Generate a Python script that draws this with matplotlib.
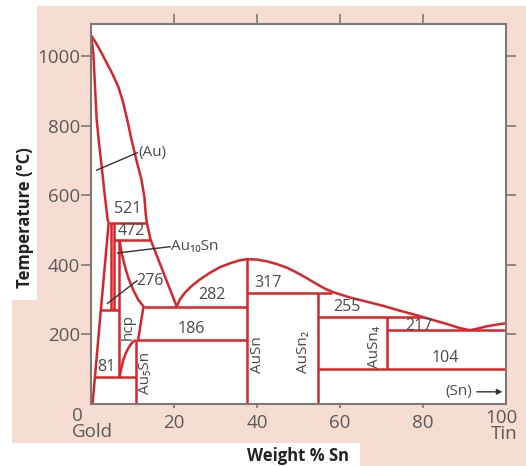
import matplotlib
matplotlib.use("Agg")
import matplotlib.pyplot as plt
from matplotlib.patches import Polygon

plt.rcParams['font.family'] = ['Open Sans', 'DejaVu Sans']

RED = '#d7262b'
TXT = '#4a4a4a'
PINK = '#f7dcd2'
GRAY = '#7a7a7a'

# ---- data (wt% Sn, temperature °C) ----
liq_left_x = [0, 1.2, 2.5, 3.8, 5.2, 6.5, 7.6, 8.7, 9.7, 10.9, 12.1, 12.8, 13.1, 13.4, 14.3, 20.6]
liq_left_y = [1058, 1036, 1008, 978, 946, 912, 870, 815, 759, 700, 644, 595, 548, 521, 472, 280]
solidus_x = [0, 0.25, 0.5, 0.9, 1.3, 1.9, 2.5, 3.2, 3.95, 4.2]
solidus_y = [1058, 1030, 1008, 910, 816, 745, 682, 605, 529, 521]
solvus_x = [0.3, 2.3, 4.2]
solvus_y = [0, 270, 521]
liq_mid_x = [20.6, 21.4, 22.6, 24.2, 26.2, 28.6, 31.0, 33.4, 35.5, 37.5,
             39.9, 42.3, 44.7, 47.1, 49.5, 51.9, 54.3, 56.4, 58.4,
             62.4, 66.4, 70.4, 74.4, 78.5, 82.5, 85.7, 88.9, 91.3,
             92.9, 95.3, 97.7, 100]
liq_mid_y = [280, 301, 320, 339, 358, 377, 393, 404, 412, 416,
             415, 410, 402, 392, 378, 362, 345, 331, 321,
             306, 294, 282, 268, 255, 241, 230, 218, 212,
             216, 223, 228, 232]
hcp_top_x = [6.8, 7.3, 8.1, 9.0, 10.1, 11.3, 12.6, 11.9, 11.3]
hcp_top_y = [472, 435, 395, 360, 328, 300, 280, 230, 184]
hcp_low_x = [6.8, 7.2, 7.7, 8.3, 8.9, 9.8, 10.7]
hcp_low_y = [78, 100, 126, 145, 160, 176, 184]

# horizontals: (T, x_start, x_end)
iso_T = [521, 472, 280, 270, 184, 78, 318, 251, 212, 100]
iso_x0 = [4.2, 5.4, 12.6, 2.3, 10.7, 0.9, 37.5, 54.7, 71.4, 54.7]
iso_x1 = [13.4, 14.3, 37.5, 6.8, 37.5, 10.7, 58.0, 80.0, 100, 100]
# verticals: (x, T_low, T_high)
vert_x = [4.7, 5.4, 6.8, 10.7, 37.5, 54.7, 71.4]
vert_lo = [270, 270, 78, 0, 0, 0, 100]
vert_hi = [521, 521, 472, 184, 416, 318, 251]

num_labels = ['521', '472', '282', '186', '317', '255', '217', '104', '81']
num_x = [8.8, 9.6, 29.0, 24.0, 42.7, 61.6, 79.1, 85.3, 3.6]
num_y = [559, 498, 313, 215, 347, 278, 224, 133, 107]

phase_labels = ['hcp', 'Au\u2085Sn', 'AuSn', 'AuSn\u2082', 'AuSn\u2084']
phase_x = [8.9, 13.1, 40.0, 51.2, 68.4]
phase_y = [222, 88, 141, 150, 165]

fig = plt.figure(figsize=(5.26, 4.66), dpi=100)
bg = fig.add_axes([0, 0, 1, 1], zorder=-10)
bg.set_xlim(0, 526)
bg.set_ylim(466, 0)
bg.axis('off')
bg.add_patch(Polygon([(37, 6), (526, 6), (526, 466), (360, 466), (360, 443),
                      (12, 443), (12, 300), (37, 300)], closed=True,
                     facecolor=PINK, edgecolor='none'))

ax = fig.add_axes([91.3 / 526, 1 - 404 / 466, (506 - 91.3) / 526, (404 - 24.3) / 466])
ax.set_facecolor('white')
ax.set_xlim(0, 100)
ax.set_ylim(0, 1091)

lw = 1.8
kw = dict(color=RED, lw=lw, solid_capstyle='butt', solid_joinstyle='round', clip_on=False)
ax.plot(liq_left_x, liq_left_y, **kw)
ax.plot(solidus_x, solidus_y, **kw)
ax.plot(solvus_x, solvus_y, **kw)
ax.plot(liq_mid_x, liq_mid_y, **kw)
ax.plot(hcp_top_x, hcp_top_y, **kw)
ax.plot(hcp_low_x, hcp_low_y, **kw)
for T, a, b in zip(iso_T, iso_x0, iso_x1):
    ax.plot([a, b], [T, T], **kw)
for x, lo, hi in zip(vert_x, vert_lo, vert_hi):
    ax.plot([x, x], [lo, hi], **kw)

for s, x, y in zip(num_labels, num_x, num_y):
    ax.text(x, y, s, ha='center', va='center', fontsize=11.5, color=TXT)
for s, x, y in zip(phase_labels, phase_x, phase_y):
    ax.text(x, y, s, ha='center', va='center', fontsize=11, color=TXT, rotation=90)

# pointer labels
ax.plot([1.3, 11.1], [672, 722], color='#333333', lw=1)
ax.text(11.3, 723, '(Au)', ha='left', va='center', fontsize=11, color=TXT)
ax.plot([6.3, 19.0], [434, 452], color='#333333', lw=1)
ax.text(19.2, 452, 'Au\u2081\u2080Sn', ha='left', va='center', fontsize=11, color=TXT)
ax.plot([3.9, 11.0], [289, 354], color='#333333', lw=1)
ax.text(10.9, 353, '276', ha='left', va='center', fontsize=11.5, color=TXT)
ax.text(88.5, 35, '(Sn)', ha='center', va='center', fontsize=11, color=TXT)
ax.annotate('', xy=(99.8, 35), xytext=(92.3, 35),
            arrowprops=dict(arrowstyle='-|>', color='#333333', lw=1, mutation_scale=8))

# axes styling
for sp in ax.spines.values():
    sp.set_color(GRAY)
    sp.set_linewidth(1.5)
ax.set_xticks([20, 40, 60, 80])
ax.set_xticklabels(['20', '40', '60', '80'])
ax.set_yticks([200, 400, 600, 800, 1000])
ax.tick_params(axis='x', which='both', direction='out', length=3, width=1.2, color=GRAY,
               top=True, labelsize=13.5, labelcolor='#5a5a5a', pad=4)
ax.tick_params(axis='y', which='both', direction='out', length=7, width=1.2, color=GRAY,
               right=True, labelsize=13.5, labelcolor='#5a5a5a', pad=1)
for t in ax.xaxis.get_major_ticks():
    t.tick2line.set_markersize(7)

ax.text(-4.6, -10, '0\nGold', ha='left', va='top', fontsize=13.5, linespacing=0.85,
        multialignment='left', color='#5a5a5a', clip_on=False)
ax.text(102.8, -14, '100\nTin', ha='right', va='top', fontsize=13.5, linespacing=0.9,
        multialignment='right', color='#5a5a5a', clip_on=False)

fig.text(298 / 526, 1 - 456 / 466, 'Weight % Sn', ha='center', va='center',
         fontsize=12, fontweight='bold', color='#222222')
fig.text(25 / 526, 1 - 218 / 466, 'Temperature (\u00b0C)', ha='center', va='center',
         fontsize=12, fontweight='bold', color='#222222', rotation=90)

fig.savefig('out.png', dpi=100)
